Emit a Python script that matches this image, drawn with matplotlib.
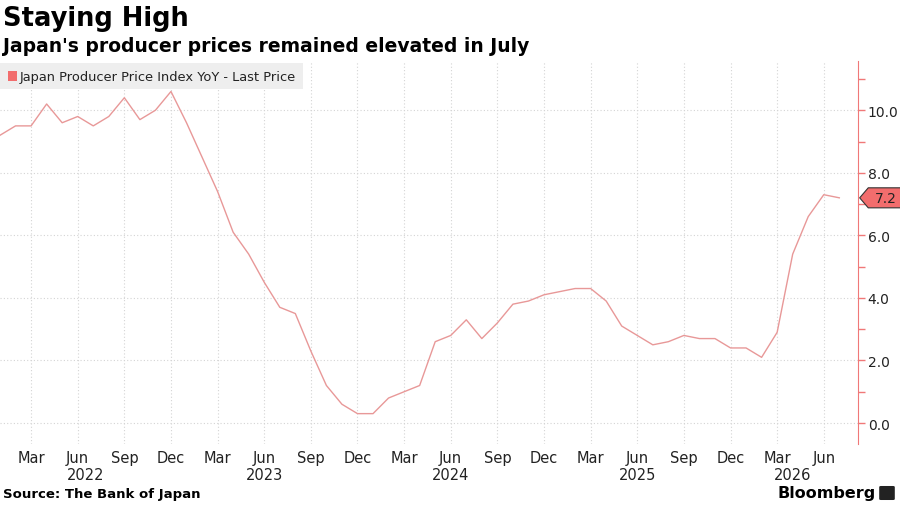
import numpy as np
import matplotlib.pyplot as plt
from matplotlib.patches import Polygon, Rectangle, FancyBboxPatch
import matplotlib.transforms as mtransforms

plt.rcParams['font.family'] = ['DejaVu Sans']

# monthly values, Jan 2022 .. Jul 2026
ppi_yoy = [9.2, 9.5, 9.5, 10.2, 9.6, 9.8, 9.5, 9.8, 10.4, 9.7, 10.0, 10.6,
           9.6, 8.5, 7.4, 6.1, 5.4, 4.5, 3.7, 3.5, 2.3, 1.2, 0.6, 0.3,
           0.3, 0.8, 1.0, 1.2, 2.6, 2.8, 3.3, 2.7, 3.2, 3.8, 3.9, 4.1,
           4.2, 4.3, 4.3, 3.9, 3.1, 2.8, 2.5, 2.6, 2.8, 2.7, 2.7, 2.4,
           2.4, 2.1, 2.9, 5.4, 6.6, 7.3, 7.2]
months = np.arange(len(ppi_yoy))
tick_pos = np.arange(2, len(ppi_yoy), 3)
tick_labels = (['Mar', 'Jun', 'Sep', 'Dec'] * 5)[:len(tick_pos)]
year_pos = [5.5, 17, 29, 41, 51]
year_labels = ['2022', '2023', '2024', '2025', '2026']
y_ticks = [0, 2, 4, 6, 8, 10]

line_col = '#e89898'
axis_col = '#f07878'
tag_col = '#f26d6d'

fig = plt.figure(figsize=(9, 5.06), dpi=100)
ax = fig.add_axes([0, 0.1206, 0.9533, 0.7566])

ax.plot(months, ppi_yoy, color=line_col, lw=1.0, zorder=3)
ax.set_xlim(0, 55.2)
ax.set_ylim(-0.67, 11.57)

# axes styling
for s in ['left', 'top', 'bottom']:
    ax.spines[s].set_visible(False)
ax.spines['right'].set_color(axis_col)
ax.yaxis.tick_right()
ax.set_yticks(y_ticks)
ax.set_yticklabels(['%.1f' % v for v in y_ticks])
ax.set_yticks([1, 3, 5, 7, 9, 11], minor=True)
ax.tick_params(axis='y', which='both', colors=axis_col, labelcolor='#222222',
               labelsize=10, length=5, width=1, pad=2)
ax.set_xticks(tick_pos)
ax.set_xticklabels(tick_labels)
ax.tick_params(axis='x', length=0, labelsize=10.5, labelcolor='#222222', pad=4)
ax.grid(True, color='#d4d4d4', linestyle=(0, (1, 2)), lw=0.8)

for p, lab in zip(year_pos, year_labels):
    ax.text(p, -0.06, lab, transform=ax.get_xaxis_transform(), ha='center',
            va='top', fontsize=10.5, color='#222222')

# last value tag
tr = mtransforms.blended_transform_factory(ax.transAxes, ax.transData)
last = ppi_yoy[-1]
h = 0.32
tag = Polygon([[1.002, last], [1.012, last + h], [1.05, last + h],
               [1.05, last - h], [1.012, last - h]], closed=True,
              transform=tr, facecolor=tag_col, edgecolor='#333333', lw=0.8,
              clip_on=False, zorder=5)
ax.add_patch(tag)
ax.text(1.033, last, '%.1f' % last, transform=tr, ha='center', va='center',
        fontsize=10, color='#222222', zorder=6)

# legend
fig.patches.append(Rectangle((0, 1 - 90 / 506), 303 / 900, 26 / 506,
                             transform=fig.transFigure, facecolor='#eeeeee',
                             edgecolor='none', zorder=2))
fig.patches.append(Rectangle((8 / 900, 1 - 82 / 506), 9 / 900, 10 / 506,
                             transform=fig.transFigure, facecolor=tag_col,
                             edgecolor='none', zorder=3))
fig.text(20 / 900, 1 - 77 / 506, 'Japan Producer Price Index YoY - Last Price',
         fontsize=9.4, color='#222222', va='center', ha='left')

fig.text(3 / 900, 1 - 19 / 506, 'Staying High', fontsize=18.5, weight='bold',
         va='center', ha='left', color='black')
fig.text(3 / 900, 1 - 46 / 506, "Japan's producer prices remained elevated in July",
         fontsize=13.5, weight='bold', va='center', ha='left', color='black')
fig.text(3 / 900, 1 - 495 / 506, 'Source: The Bank of Japan', fontsize=9.5,
         weight='bold', va='center', ha='left', color='black')
fig.text(876 / 900, 1 - 494 / 506, 'Bloomberg', fontsize=11.5, weight='bold',
         va='center', ha='right', color='black')
fig.patches.append(FancyBboxPatch((881 / 900, 1 - 500 / 506), 12 / 900, 12 / 506,
                                  boxstyle='round,pad=0.002',
                                  transform=fig.transFigure, facecolor='#222222',
                                  edgecolor='none'))

fig.savefig('out.png', dpi=100, facecolor='white')
